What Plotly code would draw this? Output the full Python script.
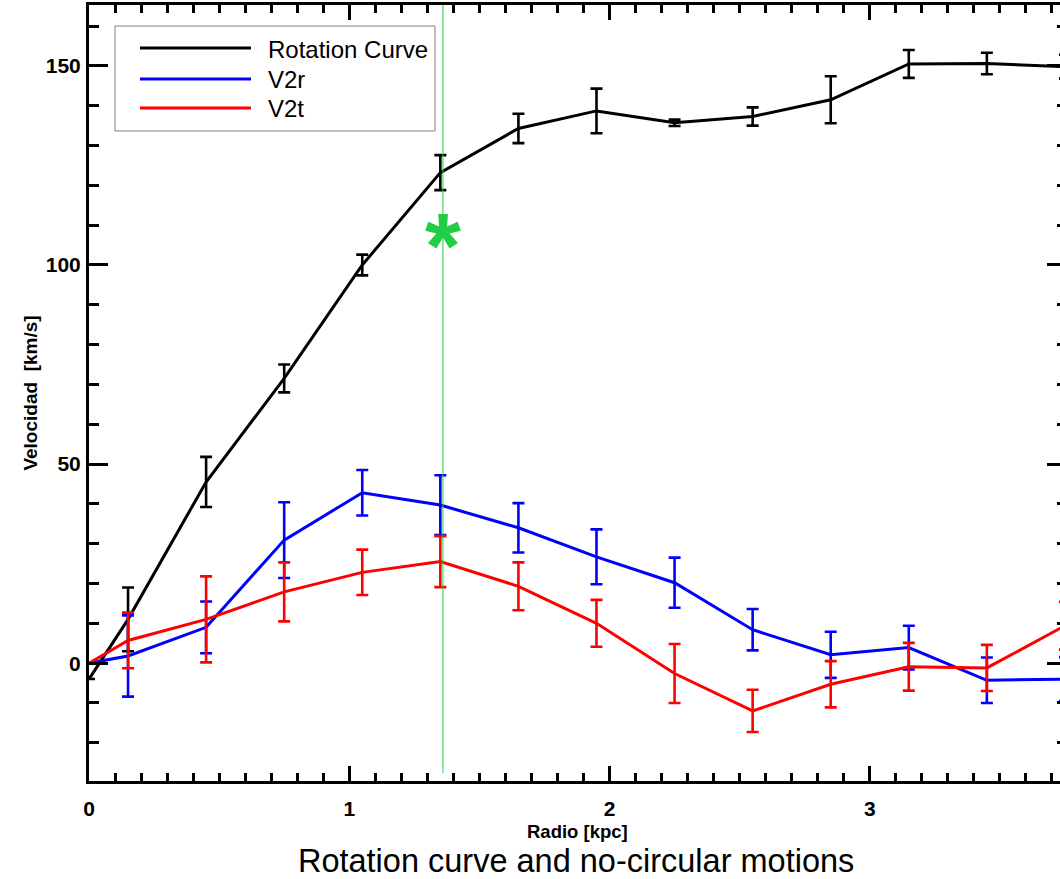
import plotly.graph_objects as go

# ---------------- data ----------------
radius = [0.0, 0.15, 0.45, 0.75, 1.05, 1.35, 1.65, 1.95, 2.25, 2.55, 2.85, 3.15, 3.45, 3.75]

rot_curve = [-4.0, 11.0, 45.5, 71.5, 100.0, 123.2, 134.3, 138.7, 135.7, 137.3, 141.5, 150.5, 150.6, 149.8]
rot_err = [None, 8.0, 6.3, 3.5, 2.6, 4.4, 3.7, 5.6, 0.8, 2.3, 5.9, 3.5, 2.7, 3.0]

v2r = [0.0, 1.8, 9.0, 30.9, 42.8, 39.7, 34.0, 26.7, 20.2, 8.4, 2.1, 3.9, -4.3, -4.0]
v2r_err = [None, 10.2, 6.5, 9.5, 5.7, 7.5, 6.2, 6.9, 6.3, 5.2, 5.8, 5.5, 5.7, 5.5]

v2t = [0.0, 5.7, 11.0, 17.9, 22.8, 25.5, 19.3, 10.0, -2.6, -12.0, -5.3, -0.9, -1.2, 9.4]
v2t_err = [None, 7.0, 10.8, 7.4, 5.7, 6.4, 6.0, 5.9, 7.4, 5.3, 5.8, 6.0, 5.8, 6.0]

marker_radius = [1.36]
marker_vel = [108.0]

legend_names = ["Rotation Curve", "V2r", "V2t"]
colors = ["#000000", "#0000ff", "#ff0000"]
green = "#22cc44"

x_range = [0, 3.731]
y_range = [-29.6, 165.3]

fig = go.Figure()

for vals, errs, name, col in zip([rot_curve, v2r, v2t], [rot_err, v2r_err, v2t_err],
                                 legend_names, colors):
    fig.add_trace(go.Scatter(
        x=radius, y=vals, mode="lines", name=name, showlegend=False,
        line=dict(color=col, width=3),
        error_y=dict(type="data", array=errs, visible=True, color=col,
                     thickness=2.6, width=6),
    ))

# empty trace to hold the right-side tick axis
fig.add_trace(go.Scatter(x=[], y=[], yaxis="y2", showlegend=False))

# green star marker (text glyph; yshift compensates the raised '*' glyph)
fig.add_annotation(x=marker_radius[0], y=marker_vel[0], xref="x", yref="y",
                   text="*", showarrow=False, xanchor="center", yanchor="middle",
                   yshift=-13,
                   font=dict(family="Liberation Sans", size=92, color=green, weight="bold"))

# green vertical line
fig.add_shape(type="line", xref="x", yref="y", x0=marker_radius[0], x1=marker_radius[0],
              y0=-27.6, y1=175, line=dict(color=green, width=1))

# manual legend
def px_x(p):
    return (p - 89) / 971.0

def px_y(p):
    return (781 - p) / 776.0

fig.add_shape(type="rect", xref="paper", yref="paper",
              x0=px_x(115), x1=px_x(435), y0=px_y(131), y1=px_y(26),
              line=dict(color="#808080", width=1), fillcolor="white", layer="above")
rows = [48, 79, 108]
for name, col, ry in zip(legend_names, colors, rows):
    fig.add_shape(type="line", xref="paper", yref="paper",
                  x0=px_x(140), x1=px_x(251), y0=px_y(ry), y1=px_y(ry),
                  line=dict(color=col, width=3), layer="above")
    fig.add_annotation(xref="paper", yref="paper", x=px_x(266), y=px_y(ry + 1),
                       text=name, showarrow=False, xanchor="left", yanchor="middle",
                       font=dict(family="Liberation Sans", size=24, color="black"))

tick_font = dict(family="Liberation Sans", size=21, color="black", weight="bold")
title_font = dict(family="Liberation Sans", size=19, color="black", weight="bold")

# x-axis title
fig.add_annotation(xref="paper", yref="paper", x=px_x(577), y=px_y(831),
                   text="Radio [kpc]", showarrow=False, xanchor="center", yanchor="middle",
                   font=dict(family="Liberation Sans", size=18.5, color="black", weight="bold"))

fig.update_layout(
    width=1060, height=879,
    margin=dict(l=89, r=0, t=5, b=98),
    paper_bgcolor="white", plot_bgcolor="white",
    showlegend=False,
    title=dict(text="Rotation curve and no-circular motions",
               x=0.5435, xanchor="center", y=0.021, yanchor="middle",
               font=dict(family="Liberation Sans", size=32.5, color="black")),
    xaxis=dict(
        range=x_range, showgrid=False, zeroline=False,
        showline=True, linecolor="black", linewidth=3, mirror="ticks",
        ticks="inside", ticklen=15, tickwidth=2.5, tickcolor="black",
        tickvals=[0, 1, 2, 3], ticktext=["0", "1", "2", "3"],
        minor=dict(dtick=0.1, tick0=0, ticks="inside", ticklen=8, tickwidth=2.5,
                   tickcolor="black", showgrid=False),
        tickfont=tick_font, ticklabelstandoff=7,
    ),
    yaxis=dict(
        range=y_range, showgrid=False, zeroline=False,
        showline=True, linecolor="black", linewidth=3, mirror=False,
        ticks="inside", ticklen=19, tickwidth=2.5, tickcolor="black",
        tickvals=[0, 50, 100, 150], ticktext=["0", "50", "100", "150"],
        minor=dict(dtick=10, tick0=0, ticks="inside", ticklen=10, tickwidth=2.5,
                   tickcolor="black", showgrid=False),
        tickfont=tick_font, ticklabelstandoff=1,
        title=dict(text="Velocidad  [km/s]", font=title_font, standoff=4),
    ),
    yaxis2=dict(
        overlaying="y", side="right", anchor="x", matches="y",
        range=y_range, showgrid=False, zeroline=False, showline=False,
        ticks="inside", ticklen=13, tickwidth=2.5, tickcolor="black",
        tickvals=[0, 50, 100, 150], showticklabels=False,
        minor=dict(dtick=10, tick0=0, ticks="inside", ticklen=3, tickwidth=2.5,
                   tickcolor="black", showgrid=False),
    ),
)

fig.write_html("out.html")
